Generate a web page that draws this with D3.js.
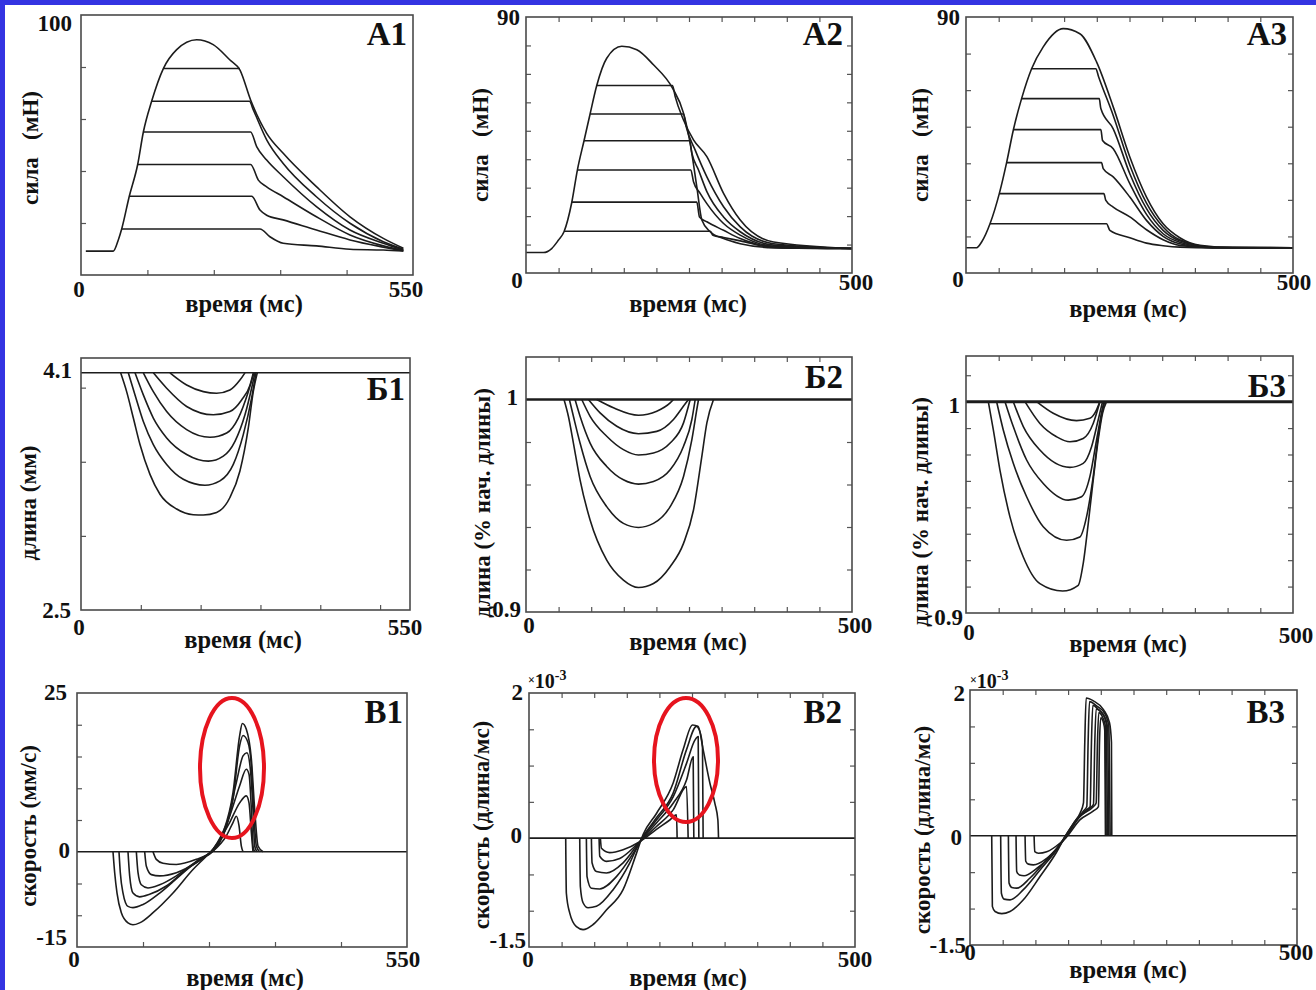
<!DOCTYPE html>
<html>
<head>
<meta charset="utf-8">
<script src="https://cdn.jsdelivr.net/npm/d3@7"></script>
<style>
  body { margin: 0; background: #fff; }
  svg { display: block; }
  text { font-family: "Liberation Serif", "Times New Roman", serif; font-weight: bold; fill: #111; }
</style>
</head>
<body>
<svg id="fig" width="1316" height="990"></svg>
<script>
// ---- А: сила (мН) ----
const a1Envelope = [[8,9.2],[53.5,9.2],[61.8,13.5],[67.4,17.7],[80,30.3],[93.9,42.5],[103.3,55],[117,66.8],[136.4,79.4],[158.5,86.7],[191.6,90.5],[219,88.6],[246.8,82.7],[263.4,78.8],[281,67.3],[307.6,54.5],[335,46.8],[390,34],[445.6,22.4],[500.8,14.1],[534,10.3]]
const a1Plateaus = [
  [[136.4,79.4],[263.4,79.4]],
  [[117,66.8],[279,66.8],[285.5,63.5],[307.6,52],[335,42.9],[390,30.1],[445.6,19.9],[500.8,12.8],[534,9.9]],
  [[103.3,55],[281,55],[291,49.4],[307.6,44.2],[335,37.8],[390,26.3],[445.6,17.3],[500.8,12.2],[534,9.6]],
  [[93.9,42.5],[281,42.5],[293.8,36.5],[307.6,33.9],[335,30.1],[390,22.4],[445.6,15.4],[500.8,11.2],[534,9.4]],
  [[80,30.3],[282.7,30.3],[296.5,25],[307.6,23],[335,21.2],[390,17.3],[445.6,13.5],[500.8,10.7],[534,9.2]],
  [[67.4,17.7],[296.5,17.7],[313,14.7],[335,12.2],[390,11.2],[445.6,9.9],[500.8,9.6],[534,9.2]]
]

const a2Envelope = [[0,7.2],[26.6,7.2],[39.4,8.6],[49.6,11.5],[58.3,14.5],[70.1,24.7],[78.8,36.2],[89,46.5],[98.3,55.9],[108.5,65.9],[123.8,75.5],[146.9,79.7],[169.9,78.5],[195.5,73.2],[224.7,65],[241.6,56.2],[251.8,45.6],[262,30.3],[269.7,18.6],[282.5,14.5],[303,12.1],[328.6,10.3],[379.7,8.9],[500,8.6]]
const a2Plateaus = [
  [[108.5,65.9],[224.7,65.9],[228.8,62],[241.6,53.8],[256.9,46.8],[277.4,40.9],[303,28],[328.6,18.6],[379.7,10.9],[500,8.6]],
  [[98.3,55.9],[241.6,55.9],[245.6,51.5],[259.5,43.2],[277.4,33.8],[303,23.3],[328.6,16.2],[379.7,10.3],[500,8.6]],
  [[89,46.5],[250.8,46.5],[254.4,42.1],[264.6,36.2],[277.4,28.6],[303,19.7],[328.6,14.5],[379.7,9.8],[500,8.6]],
  [[78.8,36.2],[252.8,36.2],[256.9,32.1],[267.1,28],[277.4,24.4],[303,17.4],[328.6,13.3],[379.7,9.4],[500,8.6]],
  [[70.1,24.9],[262,24.9],[266.1,19.7],[277.4,18],[303,15],[328.6,12.1],[379.7,9.2],[500,8.6]],
  [[58.3,14.7],[282.5,14.7],[286.6,13.3],[303,12.5],[328.6,11.3],[379.7,8.9],[500,8.6]]
]

const a3Envelope = [[0,8.9],[16.3,8.9],[23.9,10.9],[36.7,17.3],[50.9,27.9],[62.1,38.8],[72.3,50.2],[85,61.3],[100.3,71.8],[118.1,79.5],[148.7,85.9],[174.1,84.1],[199.6,74.2],[225.1,58.4],[250.5,40.8],[276,26.7],[301.4,17.3],[326.9,12.4],[357.4,9.7],[408.4,8.9],[500,8.9]]
const a3Plateaus = [
  [[100.3,71.8],[198.6,71.8],[202.6,69.1],[225.1,55.4],[250.5,37.9],[276,24.6],[301.4,16.2],[326.9,11.7],[377.8,9.1],[500,8.9]],
  [[85,61.3],[203.7,61.3],[206.2,57.8],[225.1,50.7],[250.5,34.9],[276,22.6],[301.4,15],[326.9,11.3],[377.8,9],[500,8.9]],
  [[72.3,50.4],[206.2,50.4],[208.8,46.6],[225.1,43.7],[250.5,31.4],[276,20.6],[301.4,13.8],[326.9,10.8],[377.8,8.9],[500,8.9]],
  [[62.1,38.8],[207.2,38.8],[209.8,36.7],[225.1,33.8],[250.5,26.7],[276,18.5],[301.4,12.9],[326.9,10.3],[377.8,8.9],[500,8.9]],
  [[50.9,27.9],[210.8,27.9],[213.8,25.5],[225.1,23.2],[250.5,19.7],[276,15.2],[301.4,11.7],[326.9,9.7],[377.8,8.9],[500,8.9]],
  [[36.7,17.3],[214.9,17.3],[220,15],[250.5,12.4],[276,10.5],[301.4,9.6],[326.9,9.1],[377.8,8.9],[500,8.9]]
]

// ---- Б: длина ----
const b1Base = [[0,4.1],[550,4.1]]
const b1Dips = [
  [[148.7,4.1],[176.6,4.018],[204.5,3.973],[226.7,3.962],[249,3.984],[265.7,4.051],[274.1,4.1]],
  [[120.9,4.1],[143.2,3.996],[176.6,3.873],[221.2,3.817],[249,3.839],[268.5,3.917],[282.5,4.017],[288,4.1]],
  [[104.2,4.1],[120.9,3.973],[143.2,3.839],[176.6,3.717],[215.6,3.665],[243.5,3.694],[263,3.795],[279.7,3.973],[289.1,4.1]],
  [[90.3,4.1],[104.2,3.951],[120.9,3.795],[143.2,3.661],[176.6,3.549],[212.8,3.504],[237.9,3.538],[257.4,3.638],[274.1,3.817],[285.2,3.996],[290.8,4.1]],
  [[79.1,4.1],[90.3,3.951],[104.2,3.772],[120.9,3.616],[143.2,3.482],[171,3.382],[207.2,3.342],[232.3,3.371],[254.6,3.482],[271.3,3.683],[285.2,3.929],[292.5,4.1]],
  [[66.3,4.1],[76.3,3.973],[87.5,3.795],[98.6,3.616],[115.3,3.415],[132,3.281],[159.9,3.181],[187.7,3.143],[204.5,3.141],[226.7,3.158],[249,3.259],[265.7,3.438],[279.7,3.728],[288,3.973],[294.7,4.1]]
]

const b2Base = [[0,1],[500,1]]
const b2Dips = [
  [[108.5,1],[134.1,0.9961],[172.5,0.9926],[200.6,0.9945],[221.1,0.9984],[226.2,1]],
  [[95.7,1],[113.6,0.9937],[139.2,0.9874],[172.5,0.9839],[200.6,0.985],[226.2,0.9906],[241.6,0.9969],[249.2,1]],
  [[85.5,1],[98.3,0.9921],[123.8,0.9827],[149.4,0.9764],[172.5,0.9739],[195.5,0.9748],[221.1,0.9795],[241.6,0.989],[251.8,1]],
  [[75.2,1],[82.9,0.9921],[98.3,0.9795],[123.8,0.9685],[149.4,0.9622],[172.5,0.9602],[195.5,0.9614],[221.1,0.9669],[241.6,0.978],[254.4,0.9906],[259.5,1]],
  [[66.5,1],[72.7,0.9921],[82.9,0.9795],[98.3,0.9638],[123.8,0.9496],[149.4,0.9417],[172.5,0.9398],[195.5,0.9417],[221.1,0.9496],[241.6,0.9638],[254.4,0.9811],[262,0.9953],[264.6,1]],
  [[58.3,1],[65,0.9921],[72.7,0.9795],[82.9,0.9622],[98.3,0.9433],[123.8,0.9244],[149.4,0.915],[172.5,0.9115],[195.5,0.9134],[221.1,0.9213],[241.6,0.9323],[256.9,0.948],[269.7,0.9732],[277.4,0.989],[287.6,1]]
]

const b3Base = [[0,1],[500,1]]
const b3Dips = [
  [[107.9,1],[133.4,0.9945],[169,0.991],[189.4,0.9921],[199.6,0.9961],[204.7,1]],
  [[90.1,1],[113,0.9897],[138.5,0.9834],[158.9,0.981],[179.2,0.9826],[194.5,0.9897],[204.7,1]],
  [[72.3,1],[87.6,0.9882],[113,0.9771],[158.9,0.9689],[179.2,0.9708],[192,0.9787],[202.1,0.9913],[208.8,1]],
  [[59.6,1],[72.3,0.9882],[92.7,0.9724],[118.1,0.9613],[156.3,0.9534],[176.7,0.955],[189.4,0.9645],[199.6,0.9818],[207.2,0.9945],[210.8,1]],
  [[46.8,1],[57,0.9866],[72.3,0.9708],[92.7,0.955],[118.1,0.9408],[153.8,0.9344],[174.1,0.936],[184.3,0.9455],[194.5,0.9645],[202.1,0.9834],[208.8,0.9961],[212.3,1]],
  [[34.1,1],[41.8,0.9866],[51.9,0.9676],[67.2,0.9455],[87.6,0.9265],[113,0.9139],[147.7,0.9104],[171.6,0.9131],[179.2,0.9234],[186.9,0.9423],[194.5,0.9629],[202.1,0.9818],[208.8,0.9945],[214.9,1]]
]

// ---- В: скорость ----
const v1Zero = [[0,0],[550,0]]
const v1Curves = [
  [[126.7,0],[132.2,-1.2],[143.3,-1.8],[165.6,-2],[198.9,-1.2],[226.7,0.1],[248.9,2.5],[260,4.6],[265.6,5.6],[270,4.1],[273.9,0.9],[276.7,0]],
  [[112.8,0],[115.6,-2.3],[123.9,-3.6],[137.8,-3.8],[165.6,-3.3],[198.9,-1.7],[226.7,0.3],[254.4,4.6],[271.1,7.7],[282.2,8.8],[286.7,7.7],[290.6,3],[293.3,0]],
  [[98.9,0],[101.7,-3.3],[107.2,-5.2],[118.3,-5.7],[137.8,-5.2],[165.6,-3.8],[198.9,-1.5],[226.7,0.4],[254.4,5.6],[271.1,10.4],[282.2,13],[286.7,12.2],[290.6,6.7],[293.3,0.9],[296.1,0]],
  [[85,0],[87.8,-3.8],[93.3,-6.5],[104.4,-7.1],[121.1,-6.7],[148.9,-5.4],[182.2,-2.8],[210,-1],[226.7,0.3],[248.9,4.1],[265.6,10.9],[276.7,15.1],[283.3,15.6],[288.9,13],[293.3,6.7],[296.1,0.9],[300,0]],
  [[70,0],[72.2,-3.3],[76.7,-6.5],[85,-8.6],[93.3,-8.8],[110,-8.3],[137.8,-6.5],[171.1,-3.8],[204.4,-1.2],[226.7,0.1],[243.3,2.5],[260,8.3],[271.1,16.7],[276.7,18.3],[285,17.2],[290.6,13.5],[294.4,6.7],[298.9,0.9],[304.4,0]],
  [[60,0],[62.8,-3.3],[66.7,-6.5],[73.9,-9.6],[85,-11.2],[93.3,-11.5],[104.4,-11.2],[126.7,-9.6],[160,-6.5],[193.3,-2.8],[215.6,-0.7],[226.7,0.4],[243.3,3],[260,9.3],[271.1,18.3],[275.6,20.2],[282.2,19.3],[290.6,14.6],[296.1,6.7],[301.7,0.9],[310,0]]
]

const v2Zero = [[0,0],[500,0]]
const v2Curves = [
  [[109.5,0],[111.1,-0.14],[123.8,-0.2],[144.3,-0.16],[169.9,-0.05],[195.5,0.12],[216,0.25],[226.2,0.32],[227.2,0]],
  [[107.5,0],[108.5,-0.25],[118.7,-0.32],[139.2,-0.28],[169.9,-0.05],[195.5,0.16],[221.1,0.39],[241.6,0.71],[244.1,0]],
  [[95.7,0],[96.7,-0.34],[103.4,-0.46],[118.7,-0.48],[144.3,-0.34],[169.9,-0.05],[195.5,0.21],[221.1,0.48],[241.6,0.8],[251.8,1.12],[252.8,0]],
  [[88,0],[89,-0.53],[95.7,-0.69],[108.5,-0.7],[134.1,-0.53],[159.7,-0.21],[172.5,-0.02],[195.5,0.25],[221.1,0.57],[241.6,1.03],[254.4,1.35],[259.5,1.4],[260.5,0]],
  [[77.8,0],[78.8,-0.67],[82.9,-0.89],[90.6,-0.96],[103.4,-0.94],[129,-0.71],[154.6,-0.34],[169.9,-0.05],[195.5,0.28],[221.1,0.62],[241.6,1.22],[256.9,1.54],[262,1.47],[266.1,1.26],[267.1,0]],
  [[56.3,0],[57.3,-0.76],[62.4,-1.03],[72.7,-1.22],[82.9,-1.26],[98.3,-1.19],[118.7,-0.99],[144.3,-0.71],[164.8,-0.21],[175,0.05],[195.5,0.34],[221.1,0.76],[236.4,1.22],[250.8,1.56],[259.5,1.54],[267.1,1.22],[277.4,0.76],[285.1,0.48],[289.7,0.25],[290.7,0]]
]

const v3Zero = [[0,0],[500,0]]
const v3Curves = [
  [[98,0],[99,-0.22],[104.6,-0.24],[117.3,-0.22],[137.8,-0.1],[146.4,-0.03],[168.4,0.22],[188.8,0.34],[196.4,0.4],[198,1.28],[200,1.62],[204.1,1.55],[206.1,1.44],[207.1,0]],
  [[84.2,0],[85.2,-0.35],[89.3,-0.39],[96.9,-0.4],[117.3,-0.31],[137.8,-0.12],[145.9,-0.03],[168.4,0.27],[188.8,0.4],[192.9,0.45],[194.9,1.28],[196.9,1.69],[203.1,1.62],[207.1,1.5],[208.2,0]],
  [[70.4,0],[71.4,-0.49],[75.5,-0.54],[82.7,-0.55],[102,-0.45],[127.6,-0.24],[145.4,-0.02],[165.8,0.24],[183.7,0.38],[188.8,0.43],[190.8,1.28],[192.9,1.74],[201.5,1.69],[208.2,1.55],[210.2,0]],
  [[58.7,0],[59.7,-0.65],[63.8,-0.71],[71.4,-0.72],[91.8,-0.58],[117.3,-0.33],[137.8,-0.12],[145.4,-0.02],[163.3,0.22],[178.6,0.36],[183.7,0.4],[185.7,1.28],[187.8,1.79],[196.4,1.73],[206.6,1.62],[210.7,1.46],[212.2,0]],
  [[46.9,0],[48,-0.79],[52,-0.87],[61.2,-0.88],[81.6,-0.74],[107.1,-0.47],[132.7,-0.19],[145.4,-0.01],[160.7,0.2],[173.5,0.34],[178.6,0.4],[180.6,1.28],[182.7,1.84],[193.9,1.78],[206.6,1.67],[212.2,1.5],[214.3,0]],
  [[33.2,0],[34.2,-0.97],[38.3,-1.04],[48.5,-1.07],[61.2,-1.04],[81.6,-0.88],[107.1,-0.56],[132.7,-0.22],[145.4,-0.01],[158.2,0.17],[168.4,0.31],[173.5,0.45],[175.5,1.28],[177.6,1.89],[188.8,1.85],[204.1,1.73],[213.3,1.55],[216.3,1.28],[216.8,0]]
]

// tick values
const ticks110 = [110, 220, 330, 440]
const ticks100 = [100, 200, 300, 400, 500]
const ticks50 = [50, 100, 150, 200, 250, 300, 350, 400, 450]
const a1YTicks = [20, 40, 60, 80]
const a2YTicks = [10, 20, 30, 40, 50, 60, 70, 80]
const a3YTicks = [12.86, 25.71, 38.57, 51.43, 64.29, 77.14]
const b1YTicks = [3, 3.5, 4]
const b2YTicks = [0.92, 0.94, 0.96, 0.98]
const b3YTicks = [0.9125, 0.925, 0.9375, 0.95, 0.9625, 0.975, 0.9875, 1.0125]
const v1YTicks = [-10, -5, 5, 10, 15, 20]
const vYTicks = [-1, -0.5, 0.5, 1, 1.5]

const panels = [
  { tag: "А1", box: {l: 81, t: 15, r: 413, b: 275}, xDomain: [0, 550], yDomain: [0, 100],
    xTicks: ticks110, yTicks: a1YTicks, allSides: false,
    series: [a1Envelope, ...a1Plateaus],
    tagPos: [407, 45], labels: [["100", 72, 31, "end"], ["0", 79, 297, "middle"], ["550", 406, 297, "middle"]],
    xTitle: [244, 312], yTitle: ["сила   (мН)", 30, 148] },
  { tag: "А2", box: {l: 526, t: 17, r: 852, b: 273}, xDomain: [0, 500], yDomain: [0, 90],
    xTicks: ticks50, yTicks: a2YTicks, allSides: true,
    series: [a2Envelope, ...a2Plateaus],
    tagPos: [843, 45], labels: [["90", 520, 25, "end"], ["0", 517, 288, "middle"], ["500", 856, 290, "middle"]],
    xTitle: [688, 312], yTitle: ["сила   (мН)", 480, 145] },
  { tag: "А3", box: {l: 966, t: 17, r: 1293, b: 273}, xDomain: [0, 500], yDomain: [0, 90],
    xTicks: ticks50, yTicks: a3YTicks, allSides: true,
    series: [a3Envelope, ...a3Plateaus],
    tagPos: [1287, 45], labels: [["90", 960, 25, "end"], ["0", 958, 287, "middle"], ["500", 1294, 290, "middle"]],
    xTitle: [1128, 317], yTitle: ["сила   (мН)", 920, 145] },
  { tag: "Б1", box: {l: 81, t: 358, r: 410, b: 610}, xDomain: [0, 550], yDomain: [2.5, 4.2],
    xTicks: ticks100, yTicks: b1YTicks, allSides: false,
    series: [b1Base, ...b1Dips],
    tagPos: [405, 400], labels: [["4.1", 72, 378, "end"], ["2.5", 71, 618, "end"], ["0", 79, 635, "middle"], ["550", 405, 635, "middle"]],
    xTitle: [243, 648], yTitle: ["длина (мм)", 28, 503] },
  { tag: "Б2", box: {l: 526, t: 357, r: 852, b: 612}, xDomain: [0, 500], yDomain: [0.9, 1.02],
    xTicks: ticks50, yTicks: b2YTicks, allSides: true, baseWidth: 2.5,
    series: [b2Base, ...b2Dips],
    tagPos: [843, 388], labels: [["1", 518, 405, "end"], ["0.9", 521, 617, "end"], ["0", 529, 633, "middle"], ["500", 855, 633, "middle"]],
    xTitle: [688, 650], yTitle: ["длина (% нач. длины)", 482, 503] },
  { tag: "Б3", box: {l: 966, t: 356, r: 1293, b: 613}, xDomain: [0, 500], yDomain: [0.9, 1.0216],
    xTicks: ticks50, yTicks: b3YTicks, allSides: true, baseWidth: 3,
    series: [b3Base, ...b3Dips],
    tagPos: [1286, 397], labels: [["1", 960, 413, "end"], ["0.9", 963, 625, "end"], ["0", 969, 640, "middle"], ["500", 1296, 643, "middle"]],
    xTitle: [1128, 652], yTitle: ["длина (% нач. длины)", 920, 512] },
  { tag: "В1", box: {l: 77, t: 693, r: 407, b: 947}, xDomain: [0, 550], yDomain: [-15, 25],
    xTicks: ticks110, yTicks: v1YTicks, allSides: false,
    series: [v1Zero, ...v1Curves],
    tagPos: [403, 723], labels: [["25", 67, 700, "end"], ["0", 70, 858, "end"], ["-15", 67, 945, "end"], ["0", 74, 967, "middle"], ["550", 403, 967, "middle"]],
    xTitle: [245, 986], yTitle: ["скорость (мм/с)", 28, 826],
    ellipse: [232, 768, 32, 70] },
  { tag: "В2", box: {l: 529, t: 693, r: 855, b: 947}, xDomain: [0, 500], yDomain: [-1.5, 2],
    xTicks: ticks50, yTicks: vYTicks, allSides: true,
    series: [v2Zero, ...v2Curves],
    tagPos: [842, 723], labels: [["2", 523, 700, "end"], ["0", 522, 843, "end"], ["-1.5", 526, 948, "end"], ["0", 528, 967, "middle"], ["500", 855, 967, "middle"]],
    xTitle: [688, 986], yTitle: ["скорость (длина/мс)", 481, 825], exp: [528, 688],
    ellipse: [686, 760, 32, 62] },
  { tag: "В3", box: {l: 970, t: 690, r: 1297, b: 945}, xDomain: [0, 500], yDomain: [-1.5, 2],
    xTicks: ticks50, yTicks: vYTicks, allSides: true,
    series: [v3Zero, ...v3Curves],
    tagPos: [1285, 723], labels: [["2", 965, 701, "end"], ["0", 962, 845, "end"], ["-1.5", 966, 953, "end"], ["0", 970, 960, "middle"], ["500", 1296, 960, "middle"]],
    xTitle: [1128, 978], yTitle: ["скорость (длина/мс)", 922, 830], exp: [970, 688] }
]

const svg = d3.select("#fig")
const W = 1316, H = 990

// blue frame (top and left edges)
svg.append("rect").attr("x", 0).attr("y", 0).attr("width", W).attr("height", 5).attr("fill", "#3434e2")
svg.append("rect").attr("x", 0).attr("y", 0).attr("width", 5).attr("height", H).attr("fill", "#3434e2")

const TL = 5 // tick length, inward

panels.forEach((p, i) => {
  const b = p.box
  const x = d3.scaleLinear().domain(p.xDomain).range([b.l, b.r])
  const y = d3.scaleLinear().domain(p.yDomain).range([b.b, b.t])
  const g = svg.append("g")

  // clip
  const cid = "clip" + i
  svg.append("defs").append("clipPath").attr("id", cid)
    .append("rect").attr("x", b.l).attr("y", b.t).attr("width", b.r - b.l).attr("height", b.b - b.t)

  // ticks (inward), axis domain lines removed
  const tickStyle = sel => {
    sel.select(".domain").remove()
    sel.selectAll(".tick line").attr("stroke", "#555").attr("stroke-width", 1.2)
  }
  g.append("g").attr("transform", `translate(0,${b.b})`)
    .call(d3.axisBottom(x).tickValues(p.xTicks).tickSize(-TL).tickFormat("")).call(tickStyle)
  g.append("g").attr("transform", `translate(${b.l},0)`)
    .call(d3.axisLeft(y).tickValues(p.yTicks).tickSize(-TL).tickFormat("")).call(tickStyle)
  if (p.allSides) {
    g.append("g").attr("transform", `translate(0,${b.t})`)
      .call(d3.axisTop(x).tickValues(p.xTicks).tickSize(-TL).tickFormat("")).call(tickStyle)
    g.append("g").attr("transform", `translate(${b.r},0)`)
      .call(d3.axisRight(y).tickValues(p.yTicks).tickSize(-TL).tickFormat("")).call(tickStyle)
  }

  // curves
  const line = d3.line().x(d => x(d[0])).y(d => y(d[1])).curve(d3.curveMonotoneX)
  g.append("g").attr("clip-path", `url(#${cid})`)
    .selectAll("path")
    .data(p.series)
    .join("path")
    .attr("d", line)
    .attr("fill", "none")
    .attr("stroke", "#1c1c1c")
    .attr("stroke-width", (d, j) => j === 0 && p.baseWidth ? p.baseWidth : 1.6)
    .attr("stroke-linejoin", "round")

  // box
  g.append("rect")
    .attr("x", b.l).attr("y", b.t).attr("width", b.r - b.l).attr("height", b.b - b.t)
    .attr("fill", "none").attr("stroke", "#4a4a4a").attr("stroke-width", 1.6)

  // numeric labels
  p.labels.forEach(([txt, lx, ly, anchor]) => {
    svg.append("text").attr("x", lx).attr("y", ly)
      .attr("text-anchor", anchor).attr("font-size", 23).text(txt)
  })

  // exponent label
  if (p.exp) {
    const t = svg.append("text").attr("x", p.exp[0]).attr("y", p.exp[1]).attr("font-size", 20)
    t.append("tspan").attr("font-size", 12).attr("dy", -4).text("×")
    t.append("tspan").attr("dy", 4).text("10")
    t.append("tspan").attr("font-size", 14).attr("dy", -8).text("-3")
  }

  // axis titles
  svg.append("text").attr("x", p.xTitle[0]).attr("y", p.xTitle[1])
    .attr("text-anchor", "middle").attr("font-size", 24.5).text("время (мс)")
  svg.append("text")
    .attr("transform", `translate(${p.yTitle[1]},${p.yTitle[2]}) rotate(-90)`)
    .attr("text-anchor", "middle").attr("dominant-baseline", "central")
    .attr("font-size", 23).style("white-space", "pre").text(p.yTitle[0])

  // panel tag
  svg.append("text").attr("x", p.tagPos[0]).attr("y", p.tagPos[1])
    .attr("text-anchor", "end").attr("font-size", 33).text(p.tag)

  // red ellipse annotation
  if (p.ellipse) {
    svg.append("ellipse")
      .attr("cx", p.ellipse[0]).attr("cy", p.ellipse[1])
      .attr("rx", p.ellipse[2]).attr("ry", p.ellipse[3])
      .attr("fill", "none").attr("stroke", "#e6141e").attr("stroke-width", 4)
  }
})
</script>
</body>
</html>
